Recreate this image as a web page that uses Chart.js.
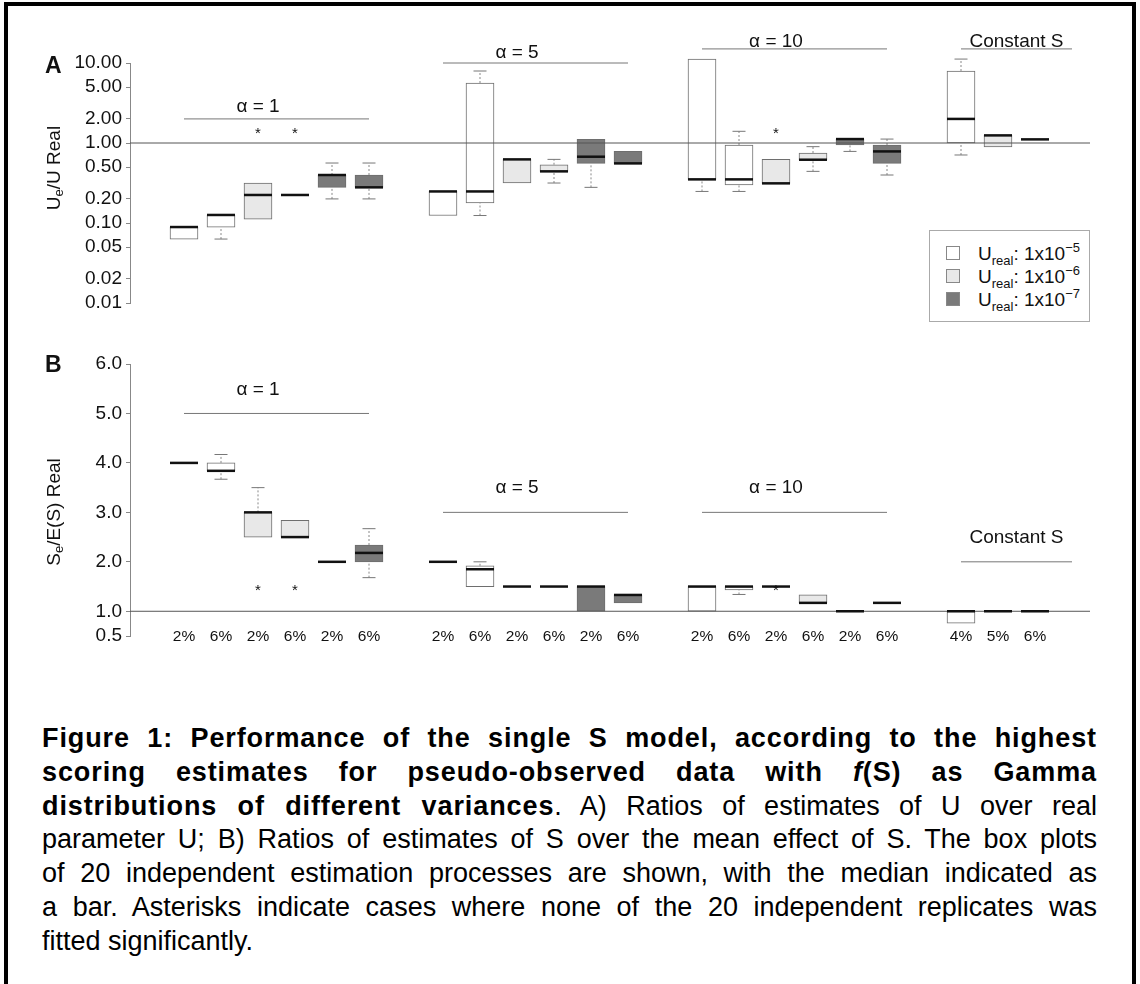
<!DOCTYPE html>
<html>
<head>
<meta charset="utf-8">
<script src="https://cdn.jsdelivr.net/npm/chart.js@4.4.1/dist/chart.umd.min.js"></script>
<style>
  body { margin: 0; background: #fff; font-family: "Liberation Sans", Arial, sans-serif; color: #111; }
  #page { position: relative; width: 1140px; height: 984px; overflow: hidden; }
  .frame { position: absolute; left: 4px; top: 2px; width: 1132px; height: 1100px; border: 4px solid #000; box-sizing: border-box; }
  canvas { position: absolute; left: 0; }
  .panel { position: absolute; font-weight: bold; font-size: 23px; line-height: 23px; }
  .ytitle { position: absolute; font-size: 19px; line-height: 19px; white-space: nowrap; transform: translate(-50%, -50%) rotate(-90deg); }
  .ytitle sub { font-size: 13px; vertical-align: -3px; line-height: 0; }
  .legend { position: absolute; left: 929px; top: 230px; width: 161px; height: 92px; box-sizing: border-box; border: 1px solid #aaa; background: #fff; padding-top: 11px; }
  .legend .row { position: relative; height: 23px; font-size: 19px; line-height: 23px; white-space: nowrap; }
  .legend .sq { position: absolute; left: 16px; top: 4px; width: 14px; height: 14px; box-sizing: border-box; border: 1px solid #888; }
  .legend .txt { position: absolute; left: 48px; top: 0; }
  .legend .sb { font-size: 13px; position: relative; top: 5px; }
  .legend .sp { font-size: 13px; position: relative; top: -8px; }
  .caption { position: absolute; left: 42px; top: 722px; width: 1055px; font-size: 27px; line-height: 33.8px; color: #000; }
  .caption div { text-align: justify; text-align-last: justify; }
  .caption div.last { text-align-last: left; }
  .caption b { letter-spacing: 0.9px; }
</style>
</head>
<body>
<div id="page">
  <div class="frame"></div>
  <canvas id="chartA" width="1140" height="330" style="top:0"></canvas>
  <canvas id="chartB" width="1140" height="330" style="top:330px"></canvas>
  <div class="panel" style="left:45px;top:54px">A</div>
  <div class="panel" style="left:45px;top:353px">B</div>
  <div class="ytitle" style="left:53px;top:168px">U<sub>e</sub>/U Real</div>
  <div class="ytitle" style="left:53px;top:512px">S<sub>e</sub>/E(S) Real</div>
  <div class="legend" id="legend"></div>
  <div class="caption">
    <div><b>Figure 1: Performance of the single S model, according to the highest</b></div>
    <div><b>scoring estimates for pseudo-observed data with <i>f</i>(S) as Gamma</b></div>
    <div><b>distributions of different variances</b>. A) Ratios of estimates of U over real</div>
    <div>parameter U; B) Ratios of estimates of S over the mean effect of S. The box plots</div>
    <div>of 20 independent estimation processes are shown, with the median indicated as</div>
    <div>a bar. Asterisks indicate cases where none of the 20 independent replicates was</div>
    <div class="last">fitted significantly.</div>
  </div>
</div>
<script>
// slot of each box along the x axis (gaps between the alpha groups)
const positions = [0, 1, 2, 3, 4, 5, 7, 8, 9, 10, 11, 12, 14, 15, 16, 17, 18, 19, 21, 22, 23];
const xLabels = ['2%', '6%', '2%', '6%', '2%', '6%', '2%', '6%', '2%', '6%', '2%', '6%',
                 '2%', '6%', '2%', '6%', '2%', '6%', '4%', '5%', '6%'];
// which U_real series each box belongs to (0: 1e-5, 1: 1e-6, 2: 1e-7)
const seriesOf = [0, 0, 1, 1, 2, 2, 0, 0, 1, 1, 2, 2, 0, 0, 1, 1, 2, 2, 0, 1, 2];
const uRealExp = [-5, -6, -7];

// group headers
const groupTitles = ['α = 1', 'α = 5', 'α = 10', 'Constant S'];
const groupFrom = [0, 7, 14, 21];
const groupTo = [5, 12, 19, 24];
const groupTitleX = [2, 9, 16, 22.5];

// panel A: Ue / U real (log scale)
const aLow  = [null, 0.063, null, null, 0.2, 0.2, null, 0.124, null, 0.316, 0.279, null, 0.248, 0.248, null, 0.442, 0.785, 0.398, 0.708, null, null];
const aQ1   = [0.063, 0.089, 0.112, 0.224, 0.279, 0.279, 0.124, 0.178, 0.316, 0.442, 0.556, 0.556, 0.351, 0.299, 0.313, 0.618, 0.944, 0.556, 1.0, 0.891, 1.11];
const aMed  = [0.089, 0.126, 0.224, 0.224, 0.398, 0.279, 0.248, 0.248, 0.624, 0.442, 0.674, 0.556, 0.351, 0.351, 0.313, 0.618, 1.12, 0.785, 2.0, 1.245, 1.11];
const aQ3   = [0.089, 0.126, 0.316, 0.224, 0.398, 0.398, 0.248, 5.62, 0.624, 0.535, 1.11, 0.785, 11.2, 0.944, 0.624, 0.75, 1.12, 0.944, 7.94, 1.245, 1.11];
const aHigh = [null, null, null, null, 0.562, 0.562, null, 7.94, null, 0.624, null, null, null, 1.40, null, 0.9, null, 1.12, 11.2, null, null];
const aTicks = [0.01, 0.02, 0.05, 0.1, 0.2, 0.5, 1, 2, 5, 10];
const aGroupLineY = [2, 10, 15, 15];
const aGroupTitleY = [2.84, 13.4, 18.6, 18.6];
const aStarX = [2, 3, 16];
const aStarY = [1.47, 1.47, 1.47];

// panel B: Se / E(S) real
const bLow  = [null, 3.67, null, null, null, 1.68, null, null, null, null, null, null, null, 1.34, null, null, null, null, null, null, null];
const bQ1   = [4, 3.84, 2.5, 2.5, 2, 2.0, 2, 1.5, 1.5, 1.5, 1.0, 1.17, 1.0, 1.43, 1.5, 1.17, 1.0, 1.17, 0.76, 1.0, 1.0];
const bMed  = [4, 3.84, 3.0, 2.5, 2, 2.18, 2, 1.85, 1.5, 1.5, 1.5, 1.33, 1.5, 1.5, 1.5, 1.17, 1.0, 1.17, 1.0, 1.0, 1.0];
const bQ3   = [4, 4.0, 3.0, 2.84, 2, 2.34, 2, 1.92, 1.5, 1.5, 1.5, 1.33, 1.5, 1.5, 1.5, 1.33, 1.0, 1.17, 1.0, 1.0, 1.0];
const bHigh = [null, 4.17, 3.5, null, null, 2.67, null, 2.0, null, null, null, null, null, null, null, null, null, null, null, null, null];
const bTicks = [0.5, 1, 2, 3, 4, 5, 6];
const bGroupLineY = [5, 3, 3, 2];
const bGroupTitleY = [5.48, 3.49, 3.49, 2.48];
const bStarX = [2, 3, 16];
const bStarY = [1.5, 1.5, 1.5];

const seriesFill = ['#ffffff', '#e8e8e8', '#7a7a7a'];
const X_MIN = -54 / 37, X_MAX = 906 / 37;

Chart.defaults.font.family = '"Liberation Sans", Arial, sans-serif';
Chart.defaults.color = '#111';

// legend (HTML so the sub/superscripts stay real text)
document.getElementById('legend').innerHTML = uRealExp.map((e, i) =>
  '<div class="row"><div class="sq" style="background:' + seriesFill[i] + '"></div>' +
  '<span class="txt">U<span class="sb">real</span>: 1x10<span class="sp">\u2212' + Math.abs(e) + '</span></span></div>').join('');

// group titles, asterisks and (panel B) the box labels, at data coordinates
const annotate = {
  id: 'annotate',
  afterDatasetsDraw(chart, args, opts) {
    const { ctx } = chart;
    const x = chart.scales.x, y = chart.scales.y;
    ctx.save();
    ctx.fillStyle = '#111';
    ctx.textAlign = 'center';
    ctx.textBaseline = 'middle';
    ctx.font = '19px "Liberation Sans", Arial, sans-serif';
    groupTitles.forEach((t, i) => {
      ctx.fillText(t, x.getPixelForValue(groupTitleX[i]), y.getPixelForValue(opts.titleY[i]));
    });
    if (opts.labels) {
      ctx.font = '15.5px "Liberation Sans", Arial, sans-serif';
      positions.forEach((p, i) => {
        ctx.fillText(opts.labels[i], x.getPixelForValue(p), y.getPixelForValue(y.min) + 1);
      });
    }
    ctx.font = '15px "Liberation Sans", Arial, sans-serif';
    ctx.textBaseline = 'alphabetic';
    opts.starX.forEach((sx, i) => {
      ctx.fillText('*', x.getPixelForValue(sx), y.getPixelForValue(opts.starY[i]) + 8.5);
    });
    ctx.restore();
  }
};

function boxDatasets(low, q1, med, q3, high, lineY) {
  const whiskers = [], caps = [];
  positions.forEach((p, i) => {
    if (high[i] != null) {
      whiskers.push({ x: p, y: q3[i] }, { x: p, y: high[i] }, { x: p, y: null });
      caps.push({ x: p, y: high[i] });
    }
    if (low[i] != null) {
      whiskers.push({ x: p, y: low[i] }, { x: p, y: q1[i] }, { x: p, y: null });
      caps.push({ x: p, y: low[i] });
    }
  });
  const headers = [];
  groupFrom.forEach((g, i) => {
    headers.push({ x: g, y: lineY[i] }, { x: groupTo[i], y: lineY[i] }, { x: groupTo[i], y: null });
  });
  return [
    {
      type: 'bar', order: 5, clip: false,
      data: positions.map((p, i) => ({ x: p, y: [q1[i], q3[i]] })),
      backgroundColor: seriesOf.map(s => seriesFill[s]),
      borderColor: '#6e6e6e', borderWidth: 1, borderSkipped: false, barThickness: 28
    },
    {
      type: 'line', order: 4, clip: false, data: whiskers,
      borderColor: '#888', borderWidth: 1, borderDash: [2, 2], pointRadius: 0, spanGaps: false
    },
    {
      type: 'line', order: 3, clip: false, data: [{ x: X_MIN, y: 1 }, { x: X_MAX, y: 1 }],
      borderColor: '#555', borderWidth: 1, pointRadius: 0
    },
    {
      type: 'line', order: 3, clip: false, data: headers,
      borderColor: '#777', borderWidth: 1, pointRadius: 0, spanGaps: false
    },
    {
      type: 'line', order: 2, clip: false, data: caps, showLine: false,
      pointStyle: 'line', pointRadius: 6.5, pointBorderWidth: 1, pointBorderColor: '#777'
    },
    {
      type: 'line', order: 1, clip: false, showLine: false,
      data: positions.map((p, i) => ({ x: p, y: med[i] })),
      pointStyle: 'line', pointRadius: 14, pointBorderWidth: 2.5, pointBorderColor: '#111'
    }
  ];
}

function yAxis(type, min, max, ticks, digits) {
  return {
    type: type, min: min, max: max,
    afterFit: s => { s.width = 130; },
    afterBuildTicks: s => { s.ticks = ticks.map(v => ({ value: v })); },
    ticks: { callback: v => Number(v).toFixed(digits), font: { size: 19 }, padding: 4, autoSkip: false },
    grid: { drawOnChartArea: false, drawTicks: true, tickLength: 4, color: '#888' },
    border: { display: true, color: '#888', width: 1 }
  };
}

function makeChart(id, datasets, y, padding, notes) {
  return new Chart(document.getElementById(id), {
    type: 'bar',
    data: { datasets: datasets },
    options: {
      responsive: false, animation: false, devicePixelRatio: 1,
      layout: { padding: padding },
      plugins: { legend: { display: false }, tooltip: { enabled: false }, annotate: notes },
      scales: {
        x: { type: 'linear', min: X_MIN, max: X_MAX, offset: false, display: false },
        y: y
      }
    },
    plugins: [annotate]
  });
}

makeChart('chartA',
  boxDatasets(aLow, aQ1, aMed, aQ3, aHigh, aGroupLineY),
  yAxis('logarithmic', 0.01, 10, aTicks, 2),
  { left: 0, top: 63, right: 50, bottom: 27 },
  { titleY: aGroupTitleY, starX: aStarX, starY: aStarY, labels: null });

makeChart('chartB',
  boxDatasets(bLow, bQ1, bMed, bQ3, bHigh, bGroupLineY),
  yAxis('linear', 0.5, 6, bTicks, 1),
  { left: 0, top: 34, right: 50, bottom: 24 },
  { titleY: bGroupTitleY, starX: bStarX, starY: bStarY, labels: xLabels });
</script>
</body>
</html>
